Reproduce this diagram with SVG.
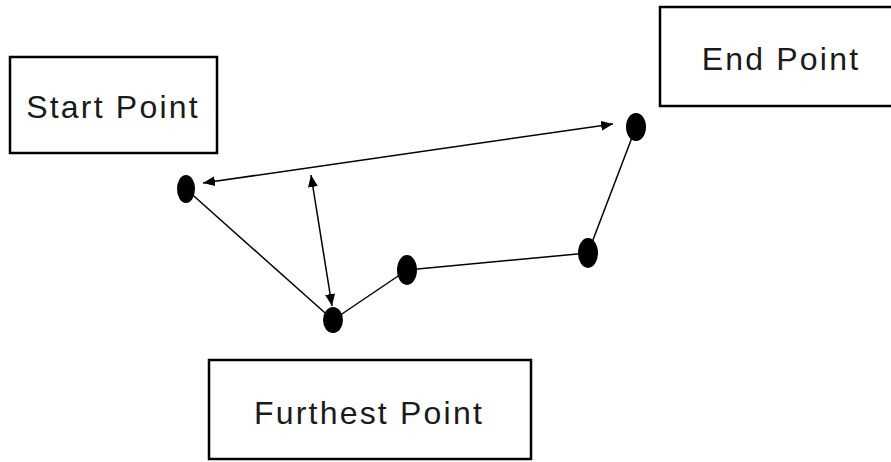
<svg xmlns="http://www.w3.org/2000/svg" width="891" height="462" viewBox="0 0 891 462">
  <style>
    .box { fill: #ffffff; stroke: #000000; stroke-width: 2.5; }
    .label { font-family: "Liberation Sans", "DejaVu Sans", sans-serif; font-size: 32px; letter-spacing: 2.2px; fill: #1a1a1a; text-anchor: middle; }
    .edge { stroke: #000000; stroke-width: 1.5; fill: none; }
    .arrow { stroke: #000000; stroke-width: 1.5; fill: none; marker-start: url(#head); marker-end: url(#head); }
    .dot { fill: #000000; }
  </style>
  <defs>
    <marker id="head" viewBox="0 0 12 10" refX="12" refY="5" markerWidth="12" markerHeight="10" markerUnits="userSpaceOnUse" orient="auto-start-reverse">
      <path d="M0,0 L12,5 L0,10 Z" fill="#000000"/>
    </marker>
  </defs>
  <rect width="891" height="462" fill="#ffffff"/>

  <g id="start-point">
    <rect class="box" x="10" y="57" width="207" height="96"/>
    <text class="label" x="113" y="118">Start Point</text>
  </g>
  <g id="end-point">
    <rect class="box" x="660" y="7" width="240" height="99"/>
    <text class="label" x="781" y="70">End Point</text>
  </g>
  <g id="furthest-point">
    <rect class="box" x="209" y="360" width="322" height="99"/>
    <text class="label" x="369" y="424">Furthest Point</text>
  </g>

  <g id="connectors">
    <line class="edge" x1="186" y1="189" x2="333" y2="320"/>
    <line class="edge" x1="333" y1="320" x2="407" y2="270"/>
    <line class="edge" x1="407" y1="270" x2="588" y2="253"/>
    <line class="edge" x1="588" y1="253" x2="636" y2="127"/>
    <line class="arrow" x1="203" y1="183" x2="613" y2="124"/>
    <line class="arrow" x1="311" y1="175" x2="332" y2="306"/>
  </g>

  <g id="points">
    <ellipse class="dot" cx="186" cy="189" rx="9" ry="14"/>
    <ellipse class="dot" cx="333" cy="320" rx="10" ry="13"/>
    <ellipse class="dot" cx="407" cy="270" rx="10" ry="15"/>
    <ellipse class="dot" cx="588" cy="253" rx="10" ry="15"/>
    <ellipse class="dot" cx="636" cy="127" rx="10" ry="14"/>
  </g>
</svg>
